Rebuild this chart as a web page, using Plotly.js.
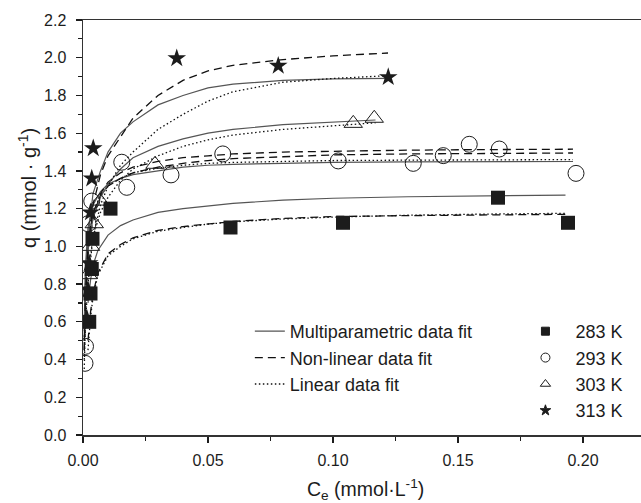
<!DOCTYPE html>
<html>
<head>
<meta charset="utf-8">
<script src="https://cdn.plot.ly/plotly-3.0.1.min.js"></script>
<style>html,body{margin:0;padding:0;background:#fff}#chart{width:641px;height:503px}</style>
</head>
<body>
<div id="chart"></div>
<script>
// ---- measured data points ----
var x283 = [0.0025, 0.0030, 0.0035, 0.0038, 0.011, 0.059, 0.104, 0.166, 0.194];
var y283 = [0.60, 0.75, 0.88, 1.04, 1.20, 1.10, 1.125, 1.258, 1.125];

var x293 = [0.0008, 0.0010, 0.0020, 0.0035, 0.0155, 0.0175, 0.0352, 0.0559, 0.1021, 0.1321, 0.1441, 0.1545, 0.1665, 0.1972];
var y293 = [0.38, 0.47, 1.12, 1.24, 1.446, 1.313, 1.379, 1.490, 1.453, 1.440, 1.481, 1.541, 1.516, 1.387];

var x303 = [0.0020, 0.0030, 0.0045, 0.0068, 0.0288, 0.1081, 0.1165];
var y303 = [0.85, 1.00, 1.12, 1.24, 1.435, 1.652, 1.679];

var x313 = [0.0015, 0.0020, 0.0025, 0.0030, 0.0035, 0.0041, 0.0375, 0.0781, 0.1221];
var y313 = [0.62, 0.77, 0.91, 1.18, 1.36, 1.52, 1.997, 1.957, 1.897];

// ---- fitted curves ----
var cx313 = [0.0005, 0.001, 0.002, 0.004, 0.007, 0.01, 0.015, 0.02, 0.03, 0.04, 0.05, 0.06, 0.08, 0.10, 0.122];
var m313 = [0.55, 0.85, 1.05, 1.28, 1.40, 1.50, 1.60, 1.66, 1.75, 1.80, 1.84, 1.86, 1.88, 1.888, 1.891];
var n313 = [0.45, 0.75, 1.00, 1.22, 1.38, 1.48, 1.58, 1.68, 1.80, 1.88, 1.93, 1.96, 1.99, 2.01, 2.025];
var l313 = [0.35, 0.60, 0.80, 1.05, 1.22, 1.32, 1.43, 1.50, 1.62, 1.70, 1.77, 1.82, 1.87, 1.89, 1.905];

var cx303 = [0.0005, 0.001, 0.002, 0.004, 0.007, 0.01, 0.015, 0.02, 0.03, 0.04, 0.05, 0.06, 0.08, 0.10, 0.117];
var m303 = [0.55, 0.80, 0.98, 1.15, 1.26, 1.33, 1.41, 1.47, 1.53, 1.57, 1.60, 1.62, 1.645, 1.66, 1.67];
var l303 = [0.40, 0.65, 0.85, 1.05, 1.18, 1.26, 1.35, 1.41, 1.48, 1.53, 1.565, 1.59, 1.62, 1.64, 1.655];

var cx293 = [0.0005, 0.001, 0.002, 0.004, 0.007, 0.01, 0.015, 0.02, 0.03, 0.04, 0.05, 0.06, 0.08, 0.10, 0.13, 0.16, 0.196];
var n303 = [0.45, 0.70, 0.95, 1.15, 1.28, 1.34, 1.39, 1.42, 1.45, 1.47, 1.48, 1.49, 1.50, 1.505, 1.51, 1.513, 1.515];
var n293 = [0.50, 0.75, 1.00, 1.18, 1.27, 1.32, 1.36, 1.39, 1.42, 1.44, 1.455, 1.465, 1.475, 1.485, 1.49, 1.493, 1.495];
var m293 = [0.60, 0.90, 1.10, 1.22, 1.29, 1.33, 1.36, 1.38, 1.40, 1.42, 1.43, 1.435, 1.44, 1.445, 1.448, 1.45, 1.45];
var l293 = [0.50, 0.80, 1.02, 1.18, 1.27, 1.32, 1.36, 1.39, 1.415, 1.43, 1.44, 1.445, 1.45, 1.455, 1.457, 1.458, 1.46];

var cx283 = [0.002, 0.003, 0.004, 0.006, 0.01, 0.015, 0.02, 0.03, 0.04, 0.05, 0.06, 0.08, 0.10, 0.13, 0.16, 0.193];
var m283 = [0.70, 0.82, 0.90, 0.98, 1.06, 1.11, 1.14, 1.18, 1.20, 1.215, 1.228, 1.245, 1.255, 1.263, 1.268, 1.272];
var n283 = [0.50, 0.65, 0.75, 0.86, 0.96, 1.01, 1.045, 1.085, 1.105, 1.12, 1.132, 1.148, 1.158, 1.163, 1.167, 1.17];
var l283 = [0.45, 0.62, 0.73, 0.85, 0.95, 1.00, 1.04, 1.08, 1.10, 1.118, 1.13, 1.145, 1.155, 1.165, 1.171, 1.175];

var fitNames = ["Multiparametric data fit", "Non-linear data fit", "Linear data fit"];
var tempNames = ["283 K", "293 K", "303 K", "313 K"];

var FONT = "Liberation Sans, Arial, sans-serif";
var INK = "#1c1c1c";

var styleM = {color: "#555", width: 1.2, dash: "solid"};
var styleN = {color: "#111", width: 1.3, dash: "8px,5px"};
var styleL = {color: "#111", width: 1.3, dash: "1.5px,2.5px"};

function curve(x, y, st, name, show) {
  return {x: x, y: y, mode: "lines", line: st, name: name || "", showlegend: !!show,
          legend: "legend", hoverinfo: "skip", type: "scatter"};
}
function pts(x, y, sym, size, lw) {
  return {x: x, y: y, mode: "markers", type: "scatter", showlegend: false,
          marker: {symbol: sym, size: size, color: INK, line: {color: INK, width: lw}}};
}
function legPts(name, sym, size) {
  return {x: [null], y: [null], mode: "markers", type: "scatter", name: name, legend: "legend2",
          showlegend: true, marker: {symbol: sym, size: size, color: INK, line: {color: INK, width: 1}}};
}

var traces = [
  curve(cx283, m283, styleM, fitNames[0], true),
  curve(cx283, n283, styleN, fitNames[1], true),
  curve(cx283, l283, styleL, fitNames[2], true),
  curve(cx293, m293, styleM), curve(cx293, n293, styleN), curve(cx293, l293, styleL),
  curve(cx293, n303, styleN),
  curve(cx303, m303, styleM), curve(cx303, l303, styleL),
  curve(cx313, m313, styleM), curve(cx313, n313, styleN), curve(cx313, l313, styleL),
  pts(x283, y283, "square", 14, 0),
  pts(x293, y293, "circle-open", 16, 1),
  pts(x303, y303, "triangle-up-open", 16, 1),
  pts(x313, y313, "star", 14, 0),
  legPts(tempNames[0], "square", 8),
  legPts(tempNames[1], "circle-open", 9),
  legPts(tempNames[2], "triangle-up-open", 9),
  legPts(tempNames[3], "star", 8)
];

var layout = {
  width: 641, height: 503,
  margin: {l: 83, r: 0, t: 20, b: 68, pad: 0},
  paper_bgcolor: "#fff", plot_bgcolor: "#fff",
  font: {family: FONT, color: INK, size: 16},
  xaxis: {
    range: [0, 0.2232], tick0: 0, dtick: 0.05, tickformat: ".2f",
    ticks: "outside", ticklen: 6, tickwidth: 1.2, tickcolor: INK,
    showline: true, linewidth: 1.5, linecolor: "#333", mirror: true,
    showgrid: false, zeroline: false, tickfont: {size: 16, family: FONT, color: INK},
    ticklabelstandoff: 4,
    minor: {dtick: 0.025, ticks: "outside", ticklen: 4, tickwidth: 1.2, tickcolor: INK, showgrid: false}
  },
  yaxis: {
    range: [0, 2.2], tick0: 0, dtick: 0.2, tickformat: ".1f",
    ticks: "outside", ticklen: 6, tickwidth: 1.2, tickcolor: INK,
    showline: true, linewidth: 1.5, linecolor: "#333", mirror: false,
    showgrid: false, zeroline: false, tickfont: {size: 16, family: FONT, color: INK},
    ticklabelstandoff: 6,
    minor: {dtick: 0.1, ticks: "outside", ticklen: 4, tickwidth: 1.2, tickcolor: INK, showgrid: false}
  },
  legend: {x: 0.299, xanchor: "left", y: 0.294, yanchor: "top", bgcolor: "rgba(0,0,0,0)",
           font: {size: 18, family: FONT, color: INK}, itemwidth: 30, tracegroupgap: 0},
  legend2: {x: 0.775, xanchor: "left", y: 0.294, yanchor: "top", bgcolor: "rgba(0,0,0,0)",
            font: {size: 18, family: FONT, color: INK}, itemwidth: 50, tracegroupgap: 0},
  annotations: [
    {text: "q (mmol · g<sup>-1</sup>)", xref: "paper", yref: "paper", x: -0.1004, y: 0.595,
     xanchor: "center", yanchor: "middle", textangle: -90, showarrow: false,
     font: {size: 20, family: FONT, color: INK}},
    {text: "C<sub>e</sub> (mmol·L<sup>-1</sup>)", xref: "paper", yref: "paper", x: 0.507, y: -0.1325,
     xanchor: "center", yanchor: "middle", showarrow: false,
     font: {size: 19.5, family: FONT, color: INK}}
  ],
  showlegend: true
};

Plotly.newPlot("chart", traces, layout, {staticPlot: true, displayModeBar: false});
</script>
</body>
</html>
